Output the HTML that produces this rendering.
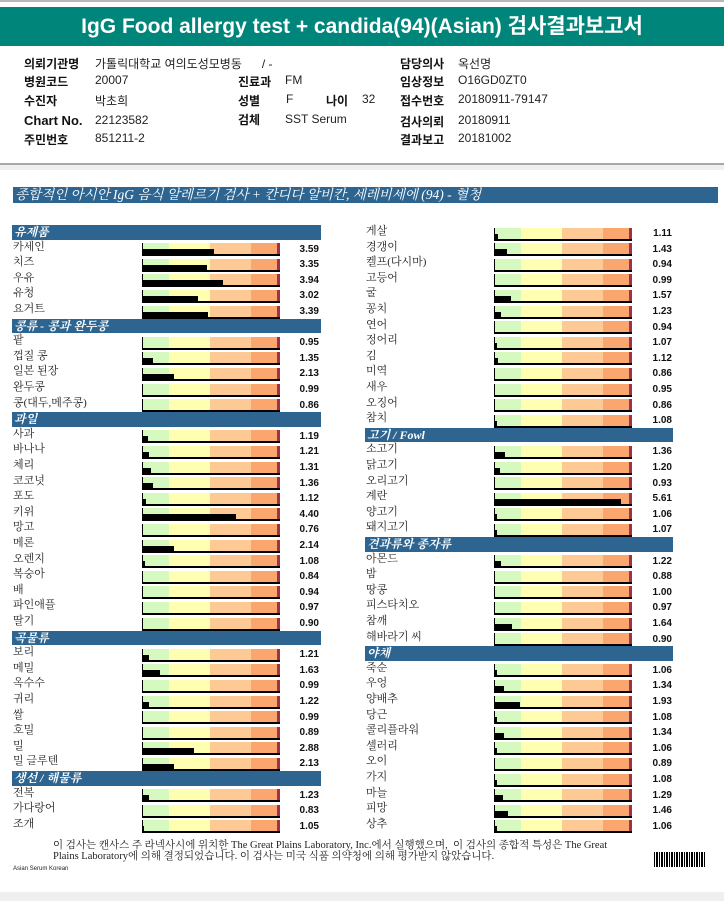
<!DOCTYPE html>
<html><head><meta charset="utf-8">
<style>
body{margin:0;background:#fff;}
#page{position:relative;width:724px;height:901px;overflow:hidden;background:#fff;font-family:"Liberation Sans","Noto Sans CJK KR",sans-serif;}
.abs{position:absolute;white-space:nowrap;}
.lab{font-size:12px;font-weight:bold;color:#111;}
.val{font-size:12px;color:#222;}
.sec{position:absolute;background:#2d6590;color:#fff;font-family:"Liberation Serif","Noto Serif CJK SC",serif;font-style:italic;font-weight:bold;font-size:12px;line-height:15px;padding-left:2px;box-sizing:border-box;}
.item{position:absolute;font-family:"Liberation Serif","Noto Serif CJK SC",serif;font-size:11px;color:#222;line-height:14px;}
.num{position:absolute;font-size:10px;font-weight:bold;color:#111;text-align:right;width:40px;line-height:12px;}
.box{position:absolute;height:11px;width:137px;border-left:1.5px solid #000;border-bottom:2px solid #000;background:linear-gradient(to right,#d6f9c0 0,#d6f9c0 26px,#feffb0 26px,#feffb0 67px,#fdc994 67px,#fdc994 108px,#fba56f 108px,#fba56f 134px,#a33046 134px);}
.bar{position:absolute;bottom:0;height:5px;background:#000;left:0;}
</style></head><body>
<div id="page">
<div class="abs" style="left:0;top:0;width:724px;height:2px;background:#b8b8b8"></div>
<div class="abs" style="left:0;top:7px;width:724px;height:39px;background:#00857b;color:#fff;font-size:21px;font-weight:bold;text-align:center;line-height:39px;font-family:'Liberation Sans','Noto Sans CJK KR',sans-serif">IgG Food allergy test + candida(94)(Asian) 검사결과보고서</div>

<div class="abs lab" style="left:24px;top:55px">의뢰기관명</div>
<div class="abs val" style="left:95px;top:55px">가톨릭대학교 여의도성모병동 &nbsp; &nbsp; &nbsp;/ -</div>
<div class="abs lab" style="left:400px;top:55px">담당의사</div>
<div class="abs val" style="left:458px;top:55px">옥선명</div>

<div class="abs lab" style="left:24px;top:73px">병원코드</div>
<div class="abs val" style="left:95px;top:73px">20007</div>
<div class="abs lab" style="left:238px;top:73px">진료과</div>
<div class="abs val" style="left:285px;top:73px">FM</div>
<div class="abs lab" style="left:400px;top:73px">임상정보</div>
<div class="abs val" style="left:458px;top:73px">O16GD0ZT0</div>

<div class="abs lab" style="left:24px;top:92px">수진자</div>
<div class="abs val" style="left:95px;top:92px">박초희</div>
<div class="abs lab" style="left:238px;top:92px">성별</div>
<div class="abs val" style="left:286px;top:92px">F</div>
<div class="abs lab" style="left:326px;top:92px">나이</div>
<div class="abs val" style="left:362px;top:92px">32</div>
<div class="abs lab" style="left:400px;top:92px">접수번호</div>
<div class="abs val" style="left:458px;top:92px">20180911-79147</div>

<div class="abs lab" style="left:24px;top:113px;font-size:13px">Chart No.</div>
<div class="abs val" style="left:95px;top:113px">22123582</div>
<div class="abs lab" style="left:238px;top:111px">검체</div>
<div class="abs val" style="left:285px;top:112px">SST Serum</div>
<div class="abs lab" style="left:400px;top:113px">검사의뢰</div>
<div class="abs val" style="left:458px;top:113px">20180911</div>

<div class="abs lab" style="left:24px;top:131px">주민번호</div>
<div class="abs val" style="left:95px;top:131px">851211-2</div>
<div class="abs lab" style="left:400px;top:131px">결과보고</div>
<div class="abs val" style="left:458px;top:131px">20181002</div>

<div class="abs" style="left:0;top:163px;width:724px;height:1.5px;background:#a8a8a8"></div>
<div class="abs" style="left:0;top:165px;width:724px;height:5px;background:#efefef"></div>
<div class="sec" style="left:13px;top:187px;width:705px;height:16px;line-height:16px;font-size:13.5px;font-weight:normal">종합적인 아시안 IgG 음식 알레르기 검사 + 칸디다 알비칸, 세레비세에 (94) - 혈청</div>

<div id="chart"></div>

<div class="abs" style="left:53px;top:840px;font-family:'Liberation Serif','Noto Serif CJK SC',serif;font-size:10.5px;color:#222;line-height:11px">이 검사는 캔사스 주 라넥사시에 위치한 The Great Plains Laboratory, Inc.에서 실행했으며,&nbsp; 이 검사의 종합적 특성은 The Great<br>Plains Laboratory에 의해 결정되었습니다. 이 검사는 미국 식품 의약청에 의해 평가받지 않았습니다.</div>
<div class="abs" style="left:13px;top:866px;font-size:6px;color:#222">Asian Serum Korean</div>
<div class="abs" style="left:654px;top:852px;width:52px;height:15px;background:repeating-linear-gradient(to right,#000 0,#000 1px,#fff 1px,#fff 2px,#000 2px,#000 4px,#fff 4px,#fff 5px)"></div>
<div class="abs" style="left:0;top:892px;width:724px;height:9px;background:#efefef"></div>
</div>
<script>
const leftNames=["#유제품","카세인","치즈","우유","유청","요거트","#콩류 - 콩과 완두콩","팥","껍질 콩","일본 된장","완두콩","콩(대두,메주콩)","#과일","사과","바나나","체리","코코넛","포도","키위","망고","메론","오렌지","복숭아","배","파인애플","딸기","#곡물류","보리","메밀","옥수수","귀리","쌀","호밀","밀","밀 글루텐","#생선 / 해물류","전복","가다랑어","조개"];
const leftValues=[null,3.59,3.35,3.94,3.02,3.39,null,0.95,1.35,2.13,0.99,0.86,null,1.19,1.21,1.31,1.36,1.12,4.40,0.76,2.14,1.08,0.84,0.94,0.97,0.90,null,1.21,1.63,0.99,1.22,0.99,0.89,2.88,2.13,null,1.23,0.83,1.05];
const rightNames=["게살","경갱이","켈프(다시마)","고등어","굴","꽁치","연어","정어리","김","미역","새우","오징어","참치","#고기 / Fowl","소고기","닭고기","오리고기","계란","양고기","돼지고기","#견과류와 종자류","아몬드","밤","땅콩","피스타치오","참깨","해바라기 씨","#야채","죽순","우엉","양배추","당근","콜리플라워","셀러리","오이","가지","마늘","피망","상추"];
const rightValues=[1.11,1.43,0.94,0.99,1.57,1.23,0.94,1.07,1.12,0.86,0.95,0.86,1.08,null,1.36,1.20,0.93,5.61,1.06,1.07,null,1.22,0.88,1.00,0.97,1.64,0.90,null,1.06,1.34,1.93,1.08,1.34,1.06,0.89,1.08,1.29,1.46,1.06];
const top0=225, slot=15.6;
function xScale(v){return Math.max(0,(v-1)*27.3);}
function yScale(i){return top0+i*slot;}
const chart=document.getElementById('chart');
function drawCol(names,vals,cx){
  names.forEach((n,i)=>{
    const y=yScale(i);
    if(n.startsWith('#')){
      const h=document.createElement('div');
      h.className='sec';
      
      
      h.style.left=(cx.label-1)+'px';h.style.top=y+'px';h.style.width=cx.hw+'px';h.style.height='14.5px';
      h.textContent=n.slice(1);chart.appendChild(h);return;
    }
    const l=document.createElement('div');
    l.className='item';
    
    
    l.style.left=cx.label+'px';l.style.top=(y-1)+'px';l.textContent=n;chart.appendChild(l);
    const b=document.createElement('div');
    b.className='box';
    
    
    b.style.left=cx.box+'px';b.style.top=(y+2.5)+'px';
    const bar=document.createElement('div');
    bar.className='bar';
    
    
    bar.style.width=xScale(vals[i])+'px';b.appendChild(bar);chart.appendChild(b);
    const t=document.createElement('div');
    t.className='num';
    
    
    t.style.left=(cx.num-40)+'px';t.style.top=(y+3)+'px';t.textContent=vals[i].toFixed(2);chart.appendChild(t);
  });
}
drawCol(leftNames,leftValues,{label:13,box:142,num:319,hw:309});
drawCol(rightNames,rightValues,{label:366,box:494,num:672,hw:308});
</script>
</body></html>
